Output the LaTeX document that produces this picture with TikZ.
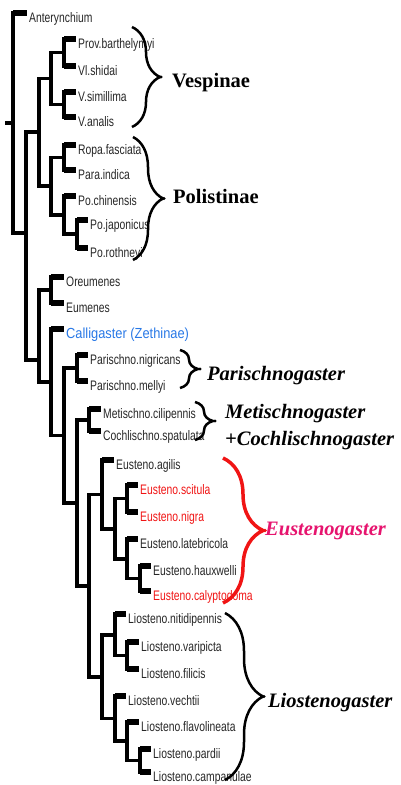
\documentclass[tikz,border=0pt]{standalone}
\usepackage{fontspec}
\setmainfont{Liberation Serif}
\newfontfamily\leaffont[FakeStretch=0.75]{Liberation Sans}
\newfontfamily\cgfont[FakeStretch=0.88]{Liberation Sans}
\usetikzlibrary{decorations.pathreplacing}
\definecolor{cgblue}{RGB}{40,120,230}
\definecolor{eupink}{RGB}{230,20,110}
\definecolor{eured}{RGB}{240,20,20}
\begin{document}
\begin{tikzpicture}[x=1pt, y=-1pt,
    branch/.style={line width=3.5pt},
    tipbar/.style={line width=5.5pt},
    leaf/.style={anchor=base west, inner sep=0pt, text=black!85, font=\leaffont\fontsize{13.8}{14}\selectfont},
    leafred/.style={leaf, text=eured},
    leafblue/.style={leaf, text=cgblue, font=\cgfont\fontsize{14.6}{15}\selectfont},
    clade/.style={anchor=base west, inner sep=0pt, font=\fontsize{20.5}{20.5}\selectfont\bfseries\itshape},
    cbrace/.style={line width=2.5pt, decorate, decoration={brace, amplitude=#1}},
  ]
  \useasboundingbox (0,0) rectangle (401,785);
  \foreach \n/\x/\y in {r/13/123, A/26/233, B/39/132, V/51/78.5, v1/64/52.5, v2/64/104.5,
      P/51/186, p1/64/157.5, p2/64/215, p3/77/234, C/39/360, e1/51/290, D/51/382,
      S/64/435.5, s1/77/368, F/77/503, s2/89/420, G/89/586, K/102/494.5, I/115/529,
      i1/127/498.5, i2/127/559, i3/140/578.5, L/102/677, l1/115/635, l2/127/655.5,
      l3/115/718.5, l4/127/741, l5/140/760.5}
    \coordinate (\n) at (\x,\y);
  \coordinate (r0) at (5,123);
  \draw[branch] (r0) -- (r);
  \foreach \p/\c in {r/A, A/B, A/C, B/V, B/P, V/v1, V/v2, P/p1, P/p2, p2/p3, C/e1, C/D,
      D/S, S/s1, S/F, F/s2, F/G, G/K, G/L, K/I, I/i1, I/i2, i2/i3, L/l1, L/l3, l1/l2,
      l3/l4, l4/l5}
    \draw[branch] (\p) |- (\c);
  \foreach \n/\p/\x/\y/\s/\t in {
      a1/r/29/13/leaf/Anterynchium,
      a2/v1/78/39/leaf/Prov.barthelymyi,
      a3/v1/78/66/leaf/Vl.shidai,
      a4/v2/78/92/leaf/V.simillima,
      a5/v2/78/117/leaf/V.analis,
      a6/p1/78/145/leaf/Ropa.fasciata,
      a7/p1/78/170/leaf/Para.indica,
      a8/p2/78/196/leaf/Po.chinensis,
      a9/p3/90/220/leaf/Po.japonicus,
      a10/p3/90/248/leaf/Po.rothneyi,
      a11/e1/66/277/leaf/Oreumenes,
      a12/e1/66/303/leaf/Eumenes,
      a13/D/66/329/leafblue/Calligaster (Zethinae),
      a14/s1/90/355/leaf/Parischno.nigricans,
      a15/s1/90/381/leaf/Parischno.mellyi,
      a16/s2/103/409/leaf/Metischno.cilipennis,
      a17/s2/103/431/leaf/Cochlischno.spatulata,
      a18/K/116/460/leaf/Eusteno.agilis,
      a19/i1/140/485/leafred/Eusteno.scitula,
      a20/i1/140/512/leafred/Eusteno.nigra,
      a21/i2/140/539/leaf/Eusteno.latebricola,
      a22/i3/153/566/leaf/Eusteno.hauxwelli,
      a23/i3/153/591/leafred/Eusteno.calyptodoma,
      a24/l1/128/614/leaf/Liosteno.nitidipennis,
      a25/l2/141/642/leaf/Liosteno.varipicta,
      a26/l2/141/669/leaf/Liosteno.filicis,
      a27/l3/128/696/leaf/Liosteno.vechtii,
      a28/l4/141/722/leaf/Liosteno.flavolineata,
      a29/l5/153/749/leaf/Liosteno.pardii,
      a30/l5/153/772/leaf/Liosteno.campanulae}{
    \node[\s] (\n) at (\x,\y+9.5) {\t};
    \coordinate (t\n) at (\x-2,\y);
    \draw[branch] (\p) |- (t\n);
    \draw[tipbar] (\p |- t\n) -- (t\n);
  }
  \draw[cbrace=28pt] (132,27) -- (132,127);
  \fill (161,77) circle (1.6);
  \draw[cbrace=30pt] (133,137) -- (133,260);
  \fill (164,198.5) circle (1.6);
  \draw[cbrace=18pt] (180,350) -- (180,388);
  \fill (200,369) circle (1.6);
  \draw[cbrace=18pt] (195,402) -- (195,440);
  \fill (215,421) circle (1.6);
  \draw[cbrace=40pt, eured, line width=3.5pt] (223,458) -- (223,603);
  \fill[eured] (265,530.5) circle (1.8);
  \draw[cbrace=38pt] (225,613) -- (225,780);
  \fill (264,696.5) circle (1.6);
  \node[clade, font=\fontsize{20.5}{20.5}\selectfont\bfseries] (vesp) at (172,87) {Vespinae};
  \node[clade, font=\fontsize{20.5}{20.5}\selectfont\bfseries] (poli) at (173,203) {Polistinae};
  \node[clade] (pari) at (207,380) {Parischnogaster};
  \node[clade] (meti) at (225,418) {Metischnogaster};
  \node[clade] (coch) at (225,445) {+Cochlischnogaster};
  \node[clade, text=eupink] (eust) at (265,535) {Eustenogaster};
  \node[clade] (lios) at (268,707) {Liostenogaster};
\end{tikzpicture}
\end{document}
